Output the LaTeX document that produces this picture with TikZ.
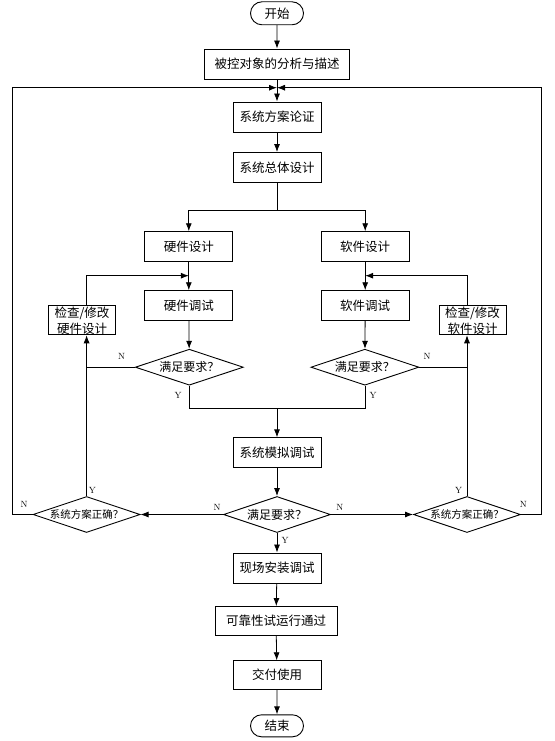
\documentclass[tikz,border=0pt]{standalone}
\usepackage{fontspec}
\usepackage{tikz}
\newfontfamily\cjk{Noto Sans CJK SC}
\newcommand{\boxfont}{\cjk\fontsize{12.5}{16}\selectfont}
\usetikzlibrary{arrows.meta}
\usetikzlibrary{shapes.geometric}
\usetikzlibrary{shapes.misc}
\tikzstyle{stage}=[draw, line width=0.9pt, inner sep=0, minimum width=88pt, minimum height=30pt, font=\boxfont]
\tikzstyle{terminal}=[stage, rounded rectangle, minimum width=53pt, minimum height=23pt]
\tikzstyle{fixbox}=[stage, align=center, minimum width=67pt, minimum height=29pt]
\tikzstyle{test}=[draw, line width=0.9pt, diamond, aspect=3, inner sep=0, minimum width=108pt, minimum height=36pt,
                  font=\cjk\fontsize{12}{12}\selectfont]
\tikzstyle{smalltest}=[test, minimum width=107pt, font=\cjk\fontsize{10.5}{10.5}\selectfont]
\tikzstyle{answer}=[inner sep=0, font=\fontsize{9}{9}\selectfont]
\tikzstyle{flow}=[-{Latex[length=8pt, width=6pt]}]
\tikzstyle{flowchart}=[x=1pt, y=-1pt, line width=0.8pt]

\begin{document}
\begin{tikzpicture}[flowchart]
        \useasboundingbox (0, 0) rectangle (554, 741);
        % main column
        \node[terminal]                  (start)    at (277, 13.3)  {开始};
        \node[stage, minimum width=145pt] (analyse) at (277, 64)    {被控对象的分析与描述};
        \node[stage]                     (scheme)   at (277, 117)   {系统方案论证};
        \node[stage]                     (overall)  at (277, 167.5) {系统总体设计};
        \node[stage]                     (hwdesign) at (188.8, 246.7) {硬件设计};
        \node[stage]                     (swdesign) at (365.2, 246.7) {软件设计};
        \node[stage]                     (hwdebug)  at (188.8, 305.7) {硬件调试};
        \node[stage]                     (swdebug)  at (365.2, 305.7) {软件调试};
        \node[fixbox]                    (hwcheck)  at (82, 320.3)  {检查/修改\\硬件设计};
        \node[fixbox]                    (swcheck)  at (472.5, 320.3) {检查/修改\\软件设计};
        \node[test]                      (hwok)     at (189.3, 367.2) {满足要求？};
        \node[test]                      (swok)     at (364.9, 367.2) {满足要求？};
        \node[stage]                     (simulate) at (277, 452.8) {系统模拟调试};
        \node[test, minimum width=107pt] (simok)    at (277, 514.5) {满足要求？};
        \node[smalltest]                 (hwright)  at (86.6, 514.5) {系统方案正确？};
        \node[smalltest]                 (swright)  at (467, 514.5) {系统方案正确？};
        \node[stage]                     (install)  at (277, 568)   {现场安装调试};
        \node[stage, minimum width=122pt, minimum height=28.5pt] (reliable) at (276, 620.8) {可靠性试运行通过};
        \node[stage, minimum height=28.5pt] (deliver) at (277, 675) {交付使用};
        \node[terminal, minimum height=22pt] (stop) at (277, 725.8) {结束};
        % junctions
        \coordinate (loopin)   at (277, 87.7);
        \coordinate (lefttop)  at (12.7, 87.7);
        \coordinate (righttop) at (541, 87.7);
        \coordinate (split)    at (277, 210.7);
        \coordinate (merge)    at (277, 408.3);
        \coordinate (hwback)   at (188.8, 275.7);
        \coordinate (swback)   at (365.2, 275.7);
        % Y / N
        \node[answer] (hwokno)    at (121.7, 356)   {N};
        \node[answer] (hwokyes)   at (178.2, 395.7) {Y};
        \node[answer] (swokno)    at (427, 356)     {N};
        \node[answer] (swokyes)   at (373, 395.7)   {Y};
        \node[answer] (simokleft) at (217, 507.7)   {N};
        \node[answer] (simokright) at (339.8, 507.7) {N};
        \node[answer] (simokyes)  at (285, 540)     {Y};
        \node[answer] (hwrightyes) at (92.4, 490)   {Y};
        \node[answer] (hwrightno) at (24, 504.3)    {N};
        \node[answer] (swrightyes) at (458.7, 490)  {Y};
        \node[answer] (swrightno) at (523.3, 504.3) {N};
        % connectors
        \draw[flow] (start) -- (analyse);
        \draw[flow] (analyse) -- (scheme);
        \draw[flow] (scheme) -- (overall);
        \draw (overall) -- (split);
        \draw[flow] (split) -| (hwdesign);
        \draw[flow] (split) -| (swdesign);
        \draw[flow] (hwdesign) -- (hwdebug);
        \draw[flow] (swdesign) -- (swdebug);
        \draw[flow] (hwdebug) -- (hwok);
        \draw[flow] (swdebug) -- (swok);
        \draw[flow] (hwok.west) -| (hwright.north |- hwcheck.south);
        \draw[flow] (swok.east) -| (swright.north |- swcheck.south);
        \draw[flow] (hwright.north |- hwcheck.north) |- (hwback);
        \draw[flow] (swright.north |- swcheck.north) |- (swback);
        \draw (hwright.north) -- (hwright.north |- hwok.west);
        \draw (swright.north) -- (swright.north |- swok.east);
        \draw (hwok.south) |- (merge);
        \draw (swok.south) |- (merge);
        \draw[flow] (merge) -- (simulate);
        \draw[flow] (simulate) -- (simok);
        \draw[flow] (simok.west) -- (hwright.east);
        \draw[flow] (simok.east) -- (swright.west);
        \draw[flow] (hwright.west) -| (lefttop) -- (loopin);
        \draw[flow] (swright.east) -| (righttop) -- (loopin);
        \draw[flow] (simok) -- (install);
        \draw[flow] (install) -- (reliable);
        \draw[flow] (reliable) -- (deliver);
        \draw[flow] (deliver) -- (stop);
    \end{tikzpicture}
\end{document}
